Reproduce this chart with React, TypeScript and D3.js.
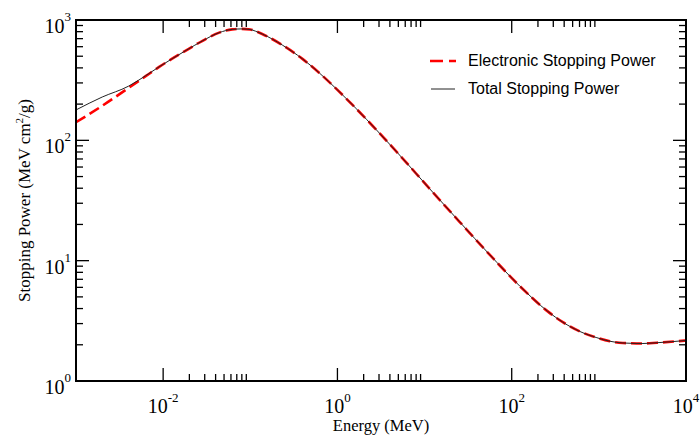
import React from "react";
import * as d3 from "d3";

// Energy (MeV)
const energies = [
  0.001, 0.002, 0.004, 0.0063, 0.009, 0.0184, 0.028, 0.044, 0.062, 0.08, 0.1, 0.115,
  0.137, 0.233, 0.4, 0.62, 1, 1.65, 2.8, 4.9, 11.4, 25.2, 55.8, 124, 259, 386, 605,
  949, 1337, 1888, 3206, 4645, 10000,
];
// Electronic stopping power (MeV cm2/g)
const electronic = [
  141.3, 193.6, 272, 341.2, 407.4, 559.8, 668.3, 785.2, 835.6, 843.3, 833.7, 807.2,
  765.6, 619.4, 473, 363.1, 262.4, 182.8, 122.2, 78.7, 39.7, 21.04, 11.22, 6.14, 3.79,
  3.08, 2.58, 2.29, 2.14, 2.07, 2.05, 2.08, 2.17,
];
// Total stopping power (MeV cm2/g)
const total = [
  178.9, 229.1, 281.8, 344.4, 408.3, 559.8, 668.3, 785.2, 835.6, 843.3, 833.7, 807.2,
  765.6, 619.4, 473, 363.1, 262.4, 182.8, 122.2, 78.7, 39.7, 21.04, 11.22, 6.14, 3.79,
  3.08, 2.58, 2.29, 2.14, 2.07, 2.05, 2.08, 2.17,
];

const xMajorExps = [-2, 0, 2, 4];
const yMajorExps = [0, 1, 2, 3];
const legendLabels = ["Electronic Stopping Power", "Total Stopping Power"];

const W = 700;
const H = 437;
const L = 76, R = 686, T = 20, B = 381;

export default function App() {
  const x = d3.scaleLog().domain([1e-3, 1e4]).range([L, R]);
  const y = d3.scaleLog().domain([1, 1e3]).range([B, T]);

  const line = d3
    .line<[number, number]>()
    .x((d) => x(d[0]))
    .y((d) => y(d[1]))
    .curve(d3.curveMonotoneX);

  const elecPath = line(energies.map((e, i) => [e, electronic[i]] as [number, number])) || "";
  const totPath = line(energies.map((e, i) => [e, total[i]] as [number, number])) || "";

  const xMinor: number[] = [];
  xMajorExps.slice(0, 3).forEach((k) => {
    for (let j = 2; j <= 9; j++) xMinor.push(j * Math.pow(10, k));
  });
  const yMinor: number[] = [];
  yMajorExps.slice(0, 3).forEach((k) => {
    for (let j = 2; j <= 9; j++) yMinor.push(j * Math.pow(10, k));
  });

  const majLen = 13;
  const minLen = 7;
  const serif = "'Liberation Serif', 'Times New Roman', serif";
  const sans = "'Liberation Sans', Arial, sans-serif";

  return (
    <svg
      width={W}
      height={H}
      style={{ position: "absolute", left: 0, top: 0, background: "#fff" }}
      xmlns="http://www.w3.org/2000/svg"
    >
      <rect x={0} y={0} width={W} height={H} fill="#fff" />
      <defs>
        <clipPath id="plotclip">
          <rect x={L} y={T} width={R - L} height={B - T} />
        </clipPath>
      </defs>

      {/* curves */}
      <g clipPath="url(#plotclip)">
        <path d={elecPath} fill="none" stroke="#ff0000" strokeWidth={2.6} strokeDasharray="11,5" />
        <path d={totPath} fill="none" stroke="#222" strokeWidth={1} />
      </g>

      {/* ticks */}
      <g stroke="#000" strokeWidth={1.3}>
        {xMajorExps.map((k) => {
          const xv = x(Math.pow(10, k));
          return (
            <g key={"xM" + k}>
              <line x1={xv} x2={xv} y1={B} y2={B - majLen} />
              <line x1={xv} x2={xv} y1={T} y2={T + majLen} />
            </g>
          );
        })}
        {xMinor.map((v, i) => {
          const xv = x(v);
          return (
            <g key={"xm" + i}>
              <line x1={xv} x2={xv} y1={B} y2={B - minLen} />
              <line x1={xv} x2={xv} y1={T} y2={T + minLen} />
            </g>
          );
        })}
        {yMajorExps.map((k) => {
          const yv = y(Math.pow(10, k));
          return (
            <g key={"yM" + k}>
              <line x1={L} x2={L + majLen} y1={yv} y2={yv} />
              <line x1={R} x2={R - majLen} y1={yv} y2={yv} />
            </g>
          );
        })}
        {yMinor.map((v, i) => {
          const yv = y(v);
          return (
            <g key={"ym" + i}>
              <line x1={L} x2={L + minLen} y1={yv} y2={yv} />
              <line x1={R} x2={R - minLen} y1={yv} y2={yv} />
            </g>
          );
        })}
      </g>

      {/* frame */}
      <rect x={L} y={T} width={R - L} height={B - T} fill="none" stroke="#000" strokeWidth={2} />

      {/* x tick labels */}
      {xMajorExps.map((k) => (
        <text
          key={"xl" + k}
          x={x(Math.pow(10, k))}
          y={413}
          textAnchor="middle"
          fontFamily={serif}
          fontSize={20}
          fill="#000"
        >
          10
          <tspan fontSize={13} dy={-11}>
            {String(k)}
          </tspan>
        </text>
      ))}

      {/* y tick labels */}
      {yMajorExps.map((k) => (
        <text
          key={"yl" + k}
          x={71}
          y={y(Math.pow(10, k)) + 13}
          textAnchor="end"
          fontFamily={serif}
          fontSize={20}
          fill="#000"
        >
          10
          <tspan fontSize={13} dy={-12}>
            {String(k)}
          </tspan>
        </text>
      ))}

      {/* axis titles */}
      <text
        x={(L + R) / 2}
        y={431}
        textAnchor="middle"
        fontFamily={serif}
        fontSize={16.5}
        fill="#000"
      >
        Energy (MeV)
      </text>
      <text
        transform={`translate(30, ${(T + B) / 2}) rotate(-90)`}
        textAnchor="middle"
        fontFamily={serif}
        fontSize={17}
        fill="#000"
      >
        Stopping Power (MeV cm
        <tspan fontSize={11} dy={-7}>
          2
        </tspan>
        <tspan dy={7}>/g)</tspan>
      </text>

      {/* legend */}
      <line x1={430} x2={456} y1={61} y2={61} stroke="#ff0000" strokeWidth={2.6} strokeDasharray="13,6" />
      <text x={468} y={66} fontFamily={sans} fontSize={16} fill="#000">
        {legendLabels[0]}
      </text>
      <line x1={431} x2={455} y1={89} y2={89} stroke="#222" strokeWidth={1} />
      <text x={468} y={94} fontFamily={sans} fontSize={16} fill="#000">
        {legendLabels[1]}
      </text>
    </svg>
  );
}
